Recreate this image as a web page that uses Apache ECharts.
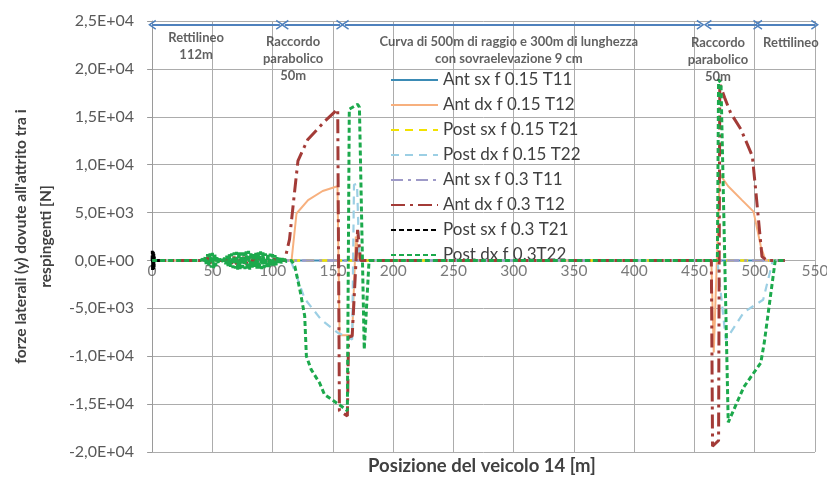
<!DOCTYPE html>
<html><head><meta charset="utf-8">
<script src="https://cdn.jsdelivr.net/npm/echarts@6/dist/echarts.min.js"></script>
<style>html,body{margin:0;padding:0;background:#fff}#c{width:827px;height:480px}</style>
</head><body><div id="c"></div>
<script>
// ---------------- DATA ----------------
const seriesNames = ['Ant sx f 0.15 T11','Ant dx f 0.15 T12','Post sx f 0.15 T21','Post dx f 0.15 T22',
  'Ant sx f 0.3 T11','Ant dx f 0.3 T12','Post sx f 0.3 T21','Post dx f 0.3T22'];

const antSx015 = [[0,0],[525,0]];
const antDx015 = [[0,0],[112,0],[115.7,0],[119.8,4900],[129.4,6300],[141.5,7250],[153.8,7750],[155.5,-7800],
  [166,-7800],[169,2500],[172,0],[464,0],[466,-9600],[471,9000],[478,7750],[489,6350],[499,5100],[505,1500],[509,0],[525,0]];
const postSx015 = [[0,0],[525,0]];
const postDx015 = [[0,0],[115,0],[119.8,-1600],[126.6,-4000],[140.4,-6200],[154,-7550],[166,-8250],[167.5,7900],
  [170,8000],[172,0],[469,0],[476,-8300],[491,-5400],[507,-4100],[515,0],[525,0]];
const antSx03 = [[0,0],[525,0]];
const antDx03 = [[0,0],[44,0],[46,300],[48,-350],[50,400],[52,-300],[54,0],[62,0],[64,300],[66,-350],[68,400],[70,-400],
  [72,350],[74,-300],[76,350],[78,-400],[80,400],[82,-350],[84,300],[86,-300],[88,350],[90,-350],[92,300],[94,-250],
  [96,250],[98,-200],[100,200],[104,0],[110,0],[114,2200],[118.4,7400],[121,10400],[129,12600],[143,14500],[154,15800],
  [155.4,-15700],[162,-16250],[163,-8000],[166,-7900],[170.5,3200],[173,0],[464,0],[465,-19400],[470,-18800],
  [471,18400],[475,17000],[480,15400],[488.5,13700],[498,10900],[501,7100],[506,400],[510,0],[525,0]];
const postSx03 = [[0,0],[0.2,1000],[0.4,-1000],[0.6,950],[0.8,-950],[1,900],[1.2,-900],[1.4,700],[1.6,-700],
  [1.8,400],[2,0],[8,0]];
const postDx03 = [[0,0],[40,0],[42,150],[43,-250],[44,400],[45,-550],[46,650],[47,-650],[48,750],[49,-750],[50,800],
  [51,-800],[52,700],[53,-600],[54,450],[55,-350],[56,200],[57,-150],[58,150],[59,-200],[60,300],[61,-400],[62,500],
  [63,-600],[64,650],[65,-700],[66,750],[67,-800],[68,850],[69,-850],[70,900],[71,-950],[72,950],[73,-900],[74,850],
  [75,-800],[76,850],[77,-900],[78,950],[79,-1000],[80,1000],[81,-950],[82,900],[83,-850],[84,800],[85,-750],[86,800],
  [87,-850],[88,900],[89,-950],[90,950],[91,-900],[92,850],[93,-800],[94,750],[95,-700],[96,750],[97,-700],[98,700],
  [99,-650],[100,650],[101,-600],[102,550],[103,-500],[104,450],[105,-400],[106,350],[107,-300],[108,250],[109,-200],
  [110,150],[111,-100],[112,0],[115.7,0],[118.4,-600],[122.5,-3000],[124,-4000],[126.6,-5800],[128,-10000],[132,-11400],
  [139,-12800],[143,-14000],[156.8,-15200],[162,-15700],[163.6,15800],[170.5,16300],[172,16000],[176,-9300],[180,0],
  [469,0],[470,18900],[472,18500],[478,-16900],[491,-13200],[505,-10700],[508,-8500],[517,0],[525,0]];

const yTickValues = [-20000,-15000,-10000,-5000,0,5000,10000,15000,20000,25000];
const yTickLabels = ['-2,0E+04','-1,5E+04','-1,0E+04','-5,0E+03','0,0E+00','5,0E+03','1,0E+04','1,5E+04','2,0E+04','2,5E+04'];
const xTickValues = [0,50,100,150,200,250,300,350,400,450,500,550];
const xTickLabels = ['0','50','100','150','200','250','300','350','400','450','500','550'];
const xAxisCrossing = 0;   // the x axis (and its labels) sits at y = 0

// track sections (metres) and their captions
const sectionRanges = [[0,106],[110,156],[160,455],[461,502],[503,550]];
const sectionCaptions = ['Rettilineo\n112m','Raccordo\nparabolico\n50m',
  'Curva di 500m di raggio e 300m di lunghezza\ncon sovraelevazione 9 cm','Raccordo\nparabolico\n50m','Rettilineo'];
const sectionCaptionAt = [[36.5,24150],[117,23750],[296,23750],[469.5,23650],[530,23650]];
const arrowLevel = 24600;
const xAxisTitle = 'Posizione del veicolo 14 [m]';
const yAxisTitle = "forze laterali (y) dovute all'attrito tra i\nrespingenti [N]";

// ---------------- CHART ----------------
const dataSets = [antSx015, antDx015, postSx015, postDx015, antSx03, antDx03, postSx03, postDx03];
const styles = [
  {color:'#3b8bb5', width:2, type:'solid'},
  {color:'#f7b07e', width:2, type:'solid'},
  {color:'#f2e200', width:2.5, type:[8,6]},
  {color:'#9ccfe4', width:2.2, type:[8,6]},
  {color:'#9e9ac8', width:2.5, type:[12,5,3,5]},
  {color:'#a33b37', width:3, type:[14,5,3,5]},
  {color:'#000000', width:3, type:[5,3]},
  {color:'#1ca94c', width:3, type:[5,3]}
];
const chevron = 'path://M0,10 L6,0 L12,10 L10.3,11 L6,3.6 L1.7,11 Z';
const font = 'Lato, "Open Sans", sans-serif';
const gridColor = '#acacac';

const series = [];
// x tick labels placed on the zero line (Excel-style axis crossing)
series.push({
  name:'xTicks', type:'scatter', symbolSize:0, silent:true, z:1,
  data: xTickValues.map((v,i)=>({value:[v, xAxisCrossing], lab:xTickLabels[i]})),
  label:{show:true, position:'bottom', distance:3, formatter:p=>p.data.lab, fontFamily:font,
    fontSize:15.5, color:'#595959'}
});
dataSets.forEach((d,i)=>series.push({
  name: seriesNames[i], type:'line', data:d, symbol:'none', smooth:false,
  lineStyle:{color:styles[i].color, width:styles[i].width, type:styles[i].type},
  itemStyle:{color:styles[i].color, opacity:0}, animation:false, z: 2+i
}));
series.push({
  name:'sections', type:'scatter', symbolSize:0, silent:true, z:20,
  data: sectionCaptions.map((t,i)=>({value:[sectionCaptionAt[i][0], sectionCaptionAt[i][1]], caption:t})),
  label:{show:true, position:'bottom', distance:0, formatter:p=>p.data.caption, fontFamily:font,
    fontWeight:'bold', fontSize:13, lineHeight:17, color:'#3a3a3a', align:'center'},
  markLine:{silent:true, symbol:[chevron, chevron], symbolSize:[10,8], label:{show:false},
    lineStyle:{color:'#4f81bd', width:2, type:'solid'},
    data: sectionRanges.map(r=>[{coord:[r[0],arrowLevel]},{coord:[r[1],arrowLevel]}])}
});

const chart = echarts.init(document.getElementById('c'), null, {renderer:'canvas'});
chart.setOption({
  backgroundColor:'#ffffff',
  animation:false,
  grid:{left:146, right:12, top:21, bottom:28, containLabel:false},
  legend:{orient:'vertical', left:385, top:65, itemWidth:47, itemHeight:10, itemGap:5, selectedMode:false,
    itemStyle:{opacity:0},
    data:seriesNames, textStyle:{fontFamily:font, fontSize:17, color:'#404040', lineHeight:20}},
  graphic:[{type:'text', x:482, y:457, silent:true,
    style:{text:xAxisTitle, fontFamily:font, fontSize:18.5, fontWeight:'bold', fill:'#404040', align:'center'}}],
  xAxis:{
    type:'value', min:0, max:550, interval:50,
    axisLine:{show:false},
    axisTick:{show:false},
    axisLabel:{show:false},
    splitLine:{show:true, lineStyle:{color:gridColor, width:1}}
  },
  yAxis:{
    type:'value', min:-20000, max:25000, interval:5000,
    axisLine:{show:true, onZero:false, lineStyle:{color:'#9a9a9a'}},
    axisTick:{show:true, inside:false, length:5, lineStyle:{color:'#9a9a9a'}},
    axisLabel:{margin:18, fontFamily:font, fontSize:16, color:'#595959',
      formatter:v=>{const k=yTickValues.indexOf(v); return k>=0?yTickLabels[k]:'';}},
    splitLine:{show:true, lineStyle:{color:gridColor, width:1}},
    name:yAxisTitle,
    nameLocation:'middle', nameRotate:90, nameGap:88,
    nameTextStyle:{fontFamily:font, fontSize:15.5, fontWeight:'bold', color:'#404040', lineHeight:25, align:'center'}
  },
  series: series
});
</script></body></html>
